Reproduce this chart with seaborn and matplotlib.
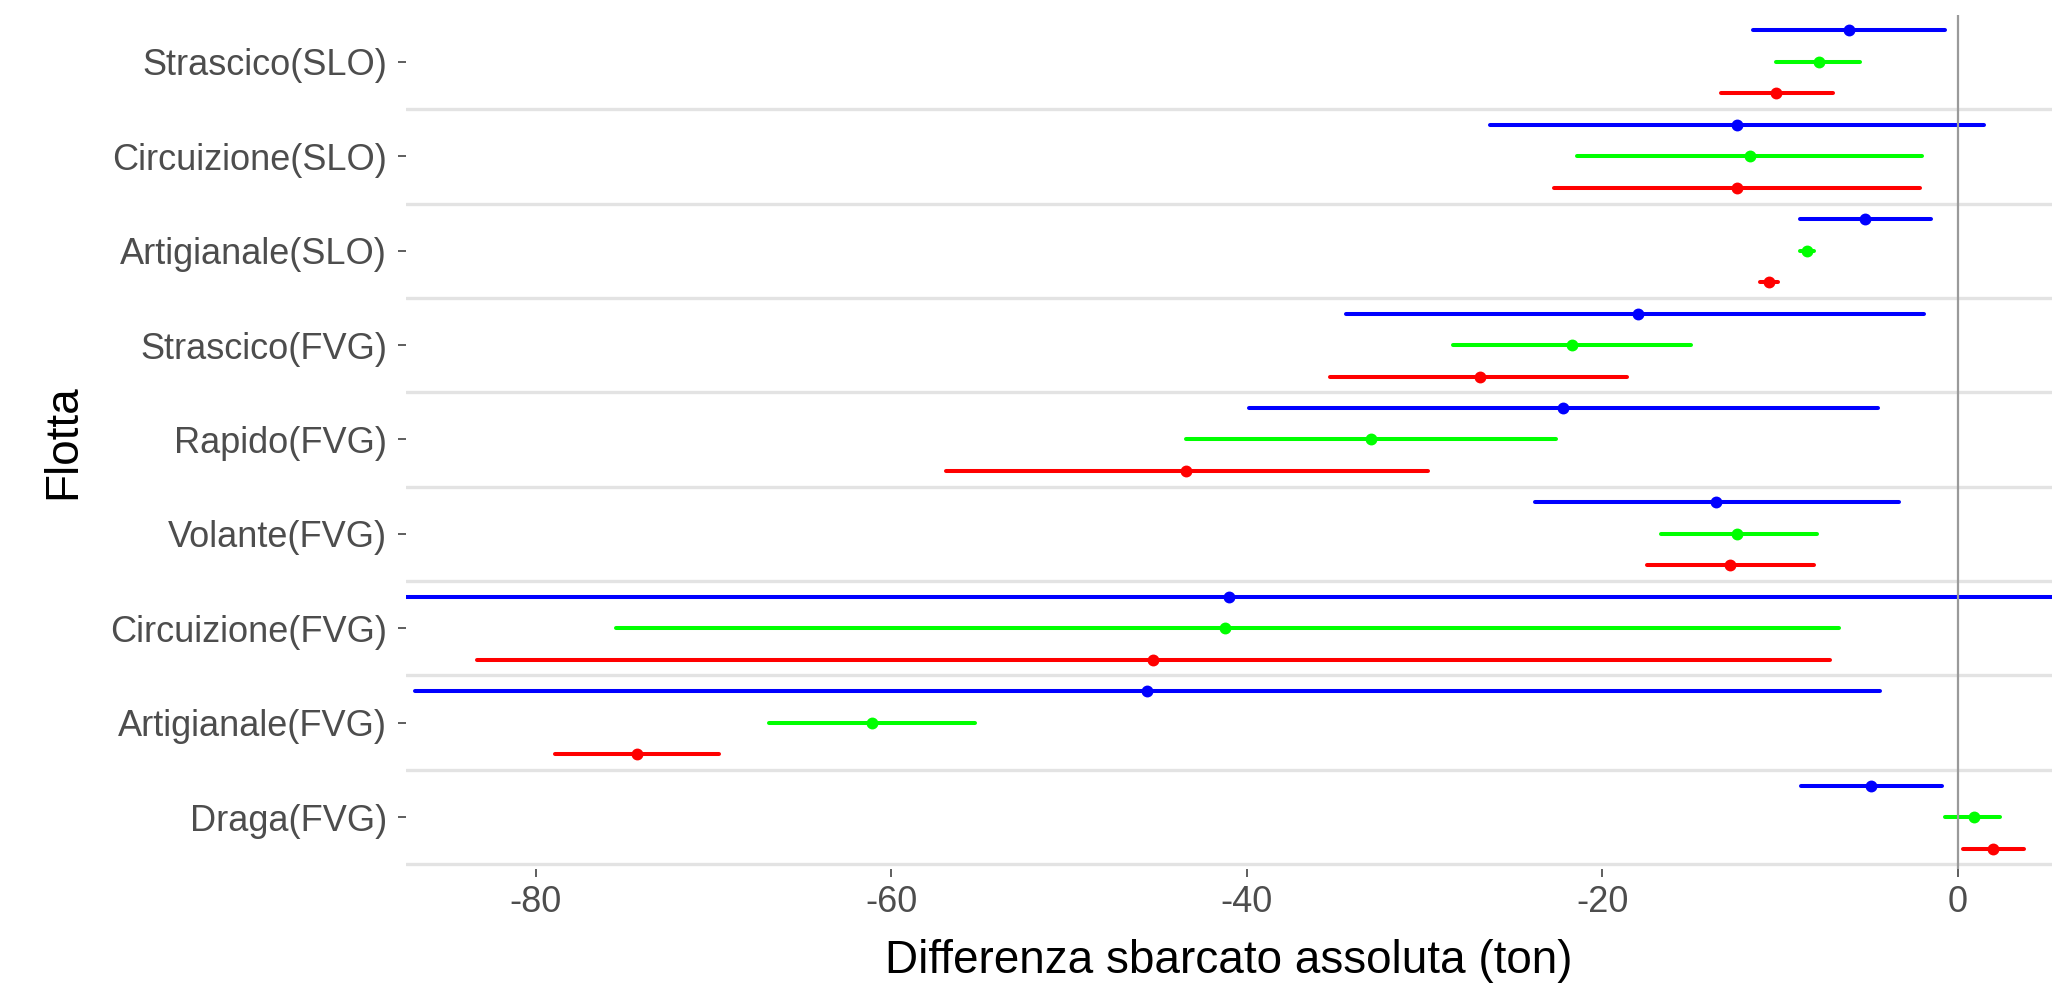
import numpy as np
import pandas as pd
import matplotlib
matplotlib.use("Agg")
import matplotlib.pyplot as plt
import seaborn as sns

# ---- data (top to bottom) ----
categories = ["Strascico(SLO)", "Circuizione(SLO)", "Artigianale(SLO)",
              "Strascico(FVG)", "Rapido(FVG)", "Volante(FVG)",
              "Circuizione(FVG)", "Artigianale(FVG)", "Draga(FVG)"]
series = ["Serie 1", "Serie 2", "Serie 3"]
series_colors = ["#0000FF", "#00FF00", "#FF0000"]

est_s1 = [-6.1, -12.4, -5.2, -18.0, -22.2, -13.6, -41.0, -45.6, -4.9]
lo_s1 = [-11.5, -26.3, -8.9, -34.4, -39.9, -23.8, -95.0, -86.8, -8.8]
hi_s1 = [-0.7, 1.5, -1.5, -1.9, -4.5, -3.3, 12.0, -4.4, -0.9]

est_s2 = [-7.8, -11.7, -8.5, -21.7, -33.0, -12.4, -41.2, -61.1, 0.9]
lo_s2 = [-10.2, -21.4, -8.9, -28.4, -43.4, -16.7, -75.5, -66.9, -0.7]
hi_s2 = [-5.5, -2.0, -8.1, -15.0, -22.6, -7.9, -6.7, -55.3, 2.4]

est_s3 = [-10.2, -12.4, -10.6, -26.9, -43.4, -12.8, -45.3, -74.3, 2.0]
lo_s3 = [-13.3, -22.7, -11.1, -35.3, -56.9, -17.5, -83.3, -78.9, 0.3]
hi_s3 = [-7.0, -2.1, -10.1, -18.6, -29.8, -8.1, -7.2, -69.7, 3.7]

xticks = [-80, -60, -40, -20, 0]
xlabel = "Differenza sbarcato assoluta (ton)"
ylabel = "Flotta"

# long table: for each (category, serie) rows lo / est / hi
rows = []
for name, est, lo, hi in zip(series, [est_s1, est_s2, est_s3],
                             [lo_s1, lo_s2, lo_s3], [hi_s1, hi_s2, hi_s3]):
    for c, e, l, h in zip(categories, est, lo, hi):
        for v in (l, e, h):
            rows.append({"Flotta": c, "Serie": name, "diff": v})
df = pd.DataFrame(rows)

sns.set_theme(style="white")
plt.rcParams["font.family"] = ["Liberation Sans", "DejaVu Sans"]

fig = plt.figure(figsize=(20.65, 9.83), dpi=100)
ax = fig.add_axes([0.1966, 0.116, 0.7971, 0.869])

sns.pointplot(data=df, x="diff", y="Flotta", hue="Serie",
              order=categories, hue_order=series, palette=series_colors,
              estimator="median", errorbar=("pi", 100),
              dodge=0.668, linestyle="none", markers="o",
              markersize=6.5, err_kws={"linewidth": 2.9},
              legend=False, ax=ax)

# separators between categories
for b in np.arange(0.5, len(categories), 1.0):
    ax.axhline(b, color="#E3E3E3", linewidth=2.4, zorder=0)
ax.axvline(0, color="#9A9A9A", linewidth=1.6, zorder=10)

ax.set_xlim(-87.3, 5.3)
ax.set_ylim(8.55, -0.5)
ax.set_xticks(xticks)
ax.set_xticklabels([f"{t}" for t in xticks])
for s in ax.spines.values():
    s.set_visible(False)
ax.tick_params(axis="both", which="both", length=5.5, width=1.1,
               color="#333333", labelcolor="#4D4D4D", labelsize=26,
               bottom=True, left=True)
ax.tick_params(axis="y", pad=8)
ax.tick_params(axis="x", pad=6)
ax.set_xlabel(xlabel, fontsize=33, color="black")
ax.set_ylabel(ylabel, fontsize=33, color="black")
ax.xaxis.set_label_coords(0.5, -0.082)
ax.yaxis.set_label_coords(-0.195, 0.5)
ax.grid(False)

fig.savefig("out.png", dpi=100, facecolor="white")
